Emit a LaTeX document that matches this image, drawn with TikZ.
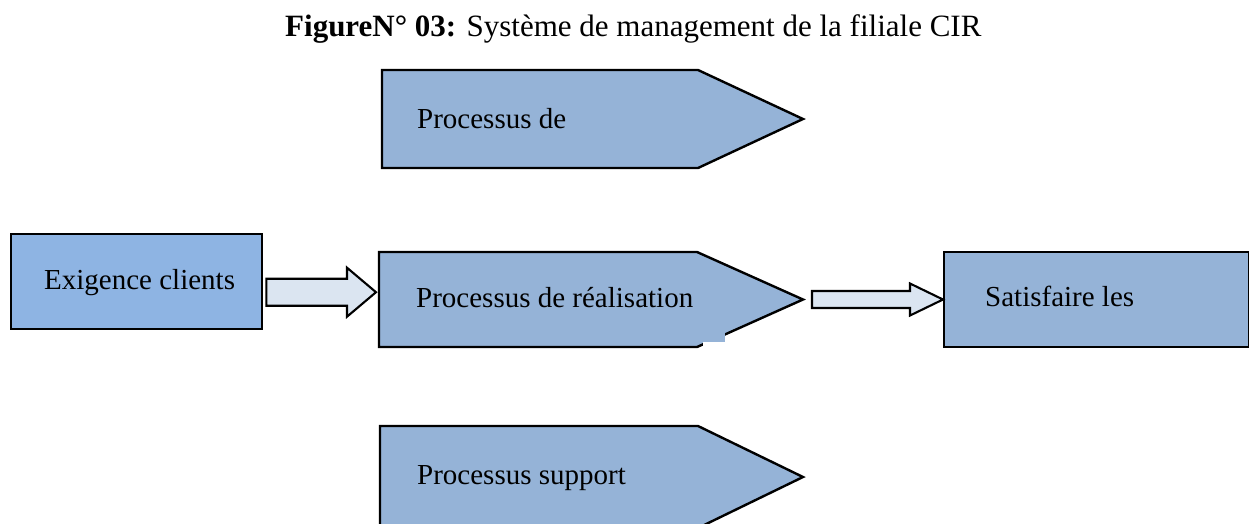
\documentclass[tikz,border=0pt]{standalone}
\usepackage{fontspec}
\setmainfont{Liberation Serif}
\usetikzlibrary{calc}

\definecolor{procblue}{RGB}{149,179,215}
\definecolor{reqblue}{RGB}{142,180,227}
\definecolor{flowfill}{RGB}{219,229,241}

\tikzset{
  boxshape/.style={draw=black, line width=2.4pt, rectangle, inner sep=0pt, anchor=north west},
  lbl/.style={font=\fontsize{29}{34}\selectfont, anchor=base west, inner sep=0pt},
  procshape/.style={draw=black, line width=2.4pt, fill=procblue, line join=miter},
  flow/.style={draw=black, line width=2.1pt, fill=flowfill, line join=miter},
}

% block arrow: start point, end point (only its x is used), shaft half width, head half width, head length
\newcommand{\flowarrow}[5]{%
  \path let \p1=(#1), \p2=(#2) in
    [flow] (\x1,{\y1+#3}) -- ({\x2-#5},{\y1+#3}) -- ({\x2-#5},{\y1+#4})
      -- (\x2,\y1) -- ({\x2-#5},{\y1-#4}) -- ({\x2-#5},{\y1-#3})
      -- (\x1,{\y1-#3}) -- cycle;}

\begin{document}
\begin{tikzpicture}[x=1pt,y=-1pt]
\useasboundingbox (0,0) rectangle (1249,523);

% caption
\node[font=\fontsize{31}{36}\selectfont, anchor=base west, inner sep=0pt] (title) at (285,36)
  {\textbf{FigureN° 03:} Système de management de la filiale CIR};

% customer requirements
\node[boxshape, fill=reqblue, minimum width=251pt, minimum height=95pt] (req) at (10,233) {};
\node[lbl] (reqtxt) at (44,289) {Exigence clients};

% management process
\draw[procshape] (382,70) -- (698,70) -- (803,119) coordinate (mgtTip)
  -- (698,168) -- (382,168) -- cycle;
\coordinate (mgtW) at (382,119);
\node[lbl] (mgttxt) at (417,128) {Processus de};

% realisation process
\draw[procshape] (379,252) -- (697,252) -- (803,299.5) coordinate (realTip)
  -- (697,347) -- (379,347) -- cycle;
\coordinate (realW) at (379,299.5);
\fill[procblue] (703,331) rectangle (725,342);
\fill[white] (703,342) rectangle (725,351);
\node[lbl] (realtxt) at (416,307) {Processus de réalisation};

% support process
\draw[procshape] (380,426) -- (698,426) -- (803,477) coordinate (supTip)
  -- (698,528) -- (380,528) -- cycle;
\coordinate (supW) at (380,477);
\node[lbl] (suptxt) at (417,484) {Processus support};

% customer satisfaction
\node[boxshape, fill=procblue, minimum width=305pt, minimum height=95pt] (sat) at (943,251) {};
\node[lbl] (sattxt) at (985,306) {Satisfaire les};

% flows
\coordinate (inStart) at ($(req.east)+(3,10.5)$);
\coordinate (inEnd) at ($(realW)+(-3,0)$);
\flowarrow{inStart}{inEnd}{13.5pt}{24.5pt}{29pt}

\coordinate (outStart) at ($(realTip)+(9,0)$);
\coordinate (outEnd) at (sat.west);
\flowarrow{outStart}{outEnd}{8.5pt}{16pt}{33pt}
\end{tikzpicture}
\end{document}
